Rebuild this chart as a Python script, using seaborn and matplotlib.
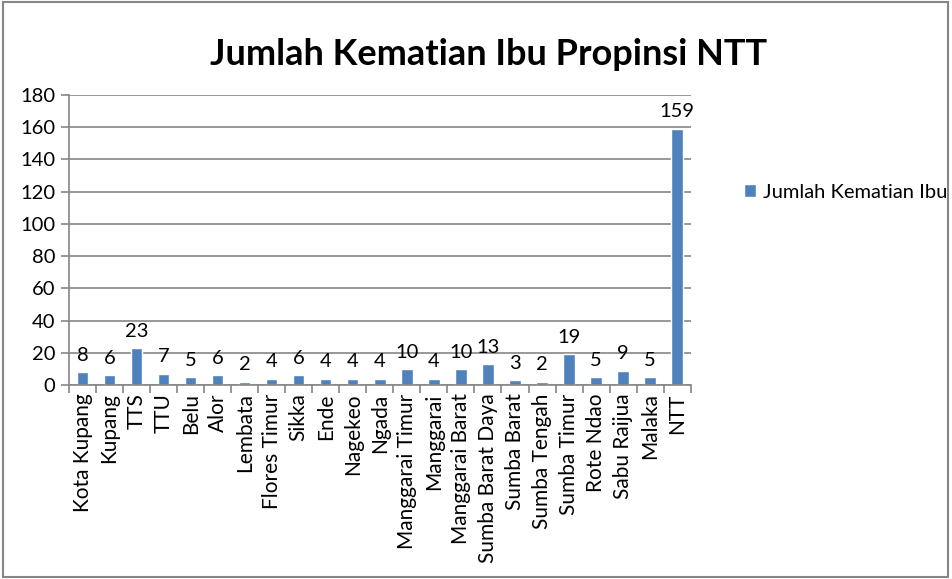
import matplotlib
matplotlib.use("Agg")
import matplotlib.pyplot as plt
import seaborn as sns
import pandas as pd
from matplotlib.patches import Rectangle

categories = ["Kota Kupang", "Kupang", "TTS", "TTU", "Belu", "Alor", "Lembata",
              "Flores Timur", "Sikka", "Ende", "Nagekeo", "Ngada", "Manggarai Timur",
              "Manggarai", "Manggarai Barat", "Sumba Barat Daya", "Sumba Barat",
              "Sumba Tengah", "Sumba Timur", "Rote Ndao", "Sabu Raijua", "Malaka", "NTT"]
values = [8, 6, 23, 7, 5, 6, 2, 4, 6, 4, 4, 4, 10, 4, 10, 13, 3, 2, 19, 5, 9, 5, 159]
series_name = "Jumlah Kematian Ibu"
title = "Jumlah Kematian Ibu Propinsi NTT"
yticks = list(range(0, 181, 20))

sns.set_theme(style="white")
plt.rcParams['font.family'] = ['Lato', 'DejaVu Sans']
plt.rcParams['text.color'] = 'black'
plt.rcParams['xtick.color'] = 'black'
plt.rcParams['ytick.color'] = 'black'

df = pd.DataFrame({"Kabupaten": categories, series_name: values})

fig = plt.figure(figsize=(9.52, 5.79), dpi=100)
ax = fig.add_axes([0.0725, 0.335, 0.653, 0.501])

bar_color = "#4F81BD"
sns.barplot(data=df, x="Kabupaten", y=series_name, color=bar_color, width=0.42,
            ax=ax, label=series_name, saturation=1)

ax.set_ylim(0, 180)
ax.set_xlim(-0.5, len(categories) - 0.5)
ax.set_yticks(yticks)
ax.set_yticklabels([str(t) for t in yticks], fontsize=14.5)
ax.yaxis.grid(True, color="#868686", linewidth=1.2)
ax.set_axisbelow(True)
ax.set_xlabel("")
ax.set_ylabel("")
ax.set_xticks(range(len(categories)))
ax.set_xticklabels(categories, rotation=90, fontsize=15)
ax.tick_params(axis="x", length=0, pad=6)
ax.tick_params(axis="y", length=6, color="#868686", width=1.2, left=True, pad=4)

ax.set_xticks([i - 0.5 for i in range(len(categories) + 1)], minor=True)
ax.tick_params(axis="x", which="minor", length=6, color="#868686", width=1.2, bottom=True)

for s in ["top", "right"]:
    ax.spines[s].set_visible(False)
for s in ["left", "bottom"]:
    ax.spines[s].set_color("#868686")
    ax.spines[s].set_linewidth(1.2)

for i, v in enumerate(values):
    ax.annotate(str(v), (i, v), xytext=(0, 6), textcoords="offset points",
                ha="center", va="bottom", fontsize=14.5, color="black")

fig.suptitle(title, x=0.513, y=0.935, fontsize=26, fontweight="bold", color="black")

leg = ax.legend(loc="center left", bbox_to_anchor=(0.773, 0.668), bbox_transform=fig.transFigure,
                frameon=False, fontsize=14.5, handlelength=0.6, handleheight=0.6,
                handletextpad=0.35, borderaxespad=0)

fig.patches.append(Rectangle((0.003, 0.004), 0.993, 0.992, transform=fig.transFigure,
                             fill=False, edgecolor="#868686", linewidth=1.5))

fig.savefig("out.png", dpi=100)
